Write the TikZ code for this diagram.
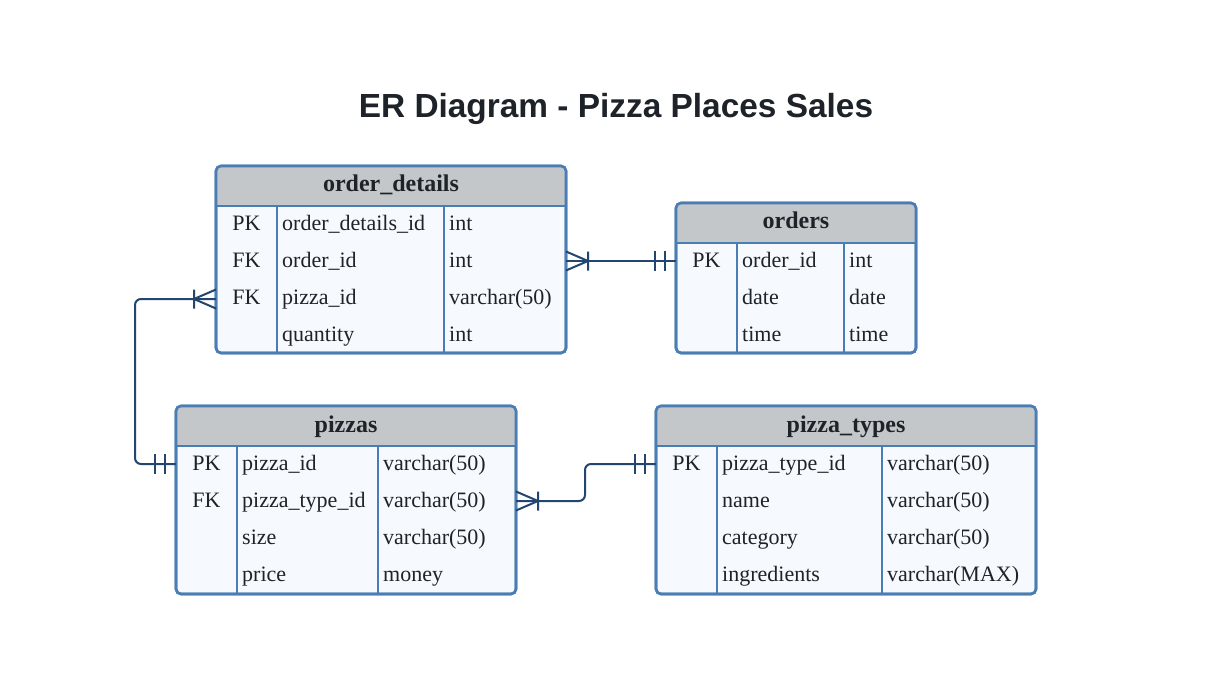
\documentclass[tikz,border=0pt]{standalone}
\usepackage{fontspec}
\setmainfont{Liberation Serif}
\newfontfamily\titlefont{Liberation Sans}
\definecolor{bordc}{HTML}{4A7DB3}
\definecolor{hdrc}{HTML}{C3C7CA}
\definecolor{bodyc}{HTML}{F6FAFE}
\definecolor{linec}{HTML}{22466F}
\definecolor{txtc}{HTML}{1D2329}
\tikzset{
  tblframe/.style={draw=bordc, fill=bodyc, line width=2.6pt, rounded corners=5pt, rectangle, outer sep=0pt, inner sep=0pt},
  bord/.style={draw=bordc, line width=2.6pt},
  conn/.style={draw=linec, line width=2pt, rounded corners=6pt},
  celltxt/.style={font=\fontsize{22}{26}\selectfont, text=txtc, inner sep=0pt},
  hdrtxt/.style={font=\bfseries\fontsize{24}{28}\selectfont, text=txtc, inner sep=0pt, anchor=base},
  manyend/.pic={\draw[draw=linec, line width=2pt] (0,-9.5) -- (22,0) -- (0,9.5) (22,-9.5) -- (22,9.5);},
  oneend/.pic={\draw[draw=linec, line width=2pt] (-11,-10) -- (-11,10) (-21,-10) -- (-21,10);}
}
% #1 name, #2 x, #3 y, #4 width, #5 height, #6 col1 offset, #7 col2 offset, #8 title
\newcommand\ertable[8]{%
  \node[tblframe, minimum width=#4pt, minimum height=#5pt, anchor=north west] (#1) at (#2,#3) {};
  \begin{scope}
    \clip[rounded corners=5pt] (#1.north west) rectangle (#1.south east);
    \fill[hdrc] (#1.north west) rectangle (#2+#4,#3+40);
  \end{scope}
  \draw[bord] (#2,#3+40) -- (#2+#4,#3+40);
  \draw[bord] (#2+#6,#3+40) -- (#2+#6,#3+#5);
  \draw[bord] (#2+#7,#3+40) -- (#2+#7,#3+#5);
  \draw[draw=bordc, line width=2.6pt, rounded corners=5pt] (#1.north west) rectangle (#1.south east);
  \node[hdrtxt] (#1-title) at (#2+#4/2,#3+26) {#8};
}
% #1 name, #2 key center x, #3 field x, #4 type x, #5 baseline y, #6 key, #7 field, #8 type
\newcommand\errow[8]{%
  \node[celltxt, anchor=base] (#1-k) at (#2,#5+2) {#6};
  \node[celltxt, anchor=base west] (#1-f) at (#3,#5+2) {#7};
  \node[celltxt, anchor=base west] (#1-t) at (#4,#5+2) {#8};
}
\begin{document}
\begin{tikzpicture}[x=1pt,y=-1pt]
\fill[white] (0,0) rectangle (1211,674);
\useasboundingbox (0,0) rectangle (1211,674);

\node[font=\titlefont\bfseries\fontsize{33.4}{40}\selectfont, text=txtc] (title) at (616,109) {ER Diagram - Pizza Places Sales};

% order_details
\ertable{od}{216}{166}{350}{187}{61}{228}{order\_details}
\errow{od1}{246.5}{282}{449}{228}{PK}{order\_details\_id}{int}
\errow{od2}{246.5}{282}{449}{265}{FK}{order\_id}{int}
\errow{od3}{246.5}{282}{449}{302}{FK}{pizza\_id}{varchar(50)}
\errow{od4}{246.5}{282}{449}{339}{}{quantity}{int}

% orders
\ertable{ord}{676}{203}{240}{150}{61}{168}{orders}
\errow{or1}{706.5}{742}{849}{265}{PK}{order\_id}{int}
\errow{or2}{706.5}{742}{849}{302}{}{date}{date}
\errow{or3}{706.5}{742}{849}{339}{}{time}{time}

% pizzas
\ertable{pz}{176}{406}{340}{188}{61}{202}{pizzas}
\errow{pz1}{206.5}{242}{383}{468}{PK}{pizza\_id}{varchar(50)}
\errow{pz2}{206.5}{242}{383}{505}{FK}{pizza\_type\_id}{varchar(50)}
\errow{pz3}{206.5}{242}{383}{542}{}{size}{varchar(50)}
\errow{pz4}{206.5}{242}{383}{579}{}{price}{money}

% pizza_types
\ertable{pt}{656}{406}{380}{188}{61}{226}{pizza\_types}
\errow{pt1}{686.5}{722}{887}{468}{PK}{pizza\_type\_id}{varchar(50)}
\errow{pt2}{686.5}{722}{887}{505}{}{name}{varchar(50)}
\errow{pt3}{686.5}{722}{887}{542}{}{category}{varchar(50)}
\errow{pt4}{686.5}{722}{887}{579}{}{ingredients}{varchar(MAX)}

% connector end points
\coordinate (odR) at (od.east |- 0,261);
\coordinate (ordL) at (ord.west |- 0,261);
\coordinate (odL) at (od.west |- 0,299);
\coordinate (pzL) at (pz.west |- 0,464);
\coordinate (pzR) at (pz.east |- 0,501);
\coordinate (ptL) at (pt.west |- 0,464);

% order_details -- orders
\draw[conn] (odR) -- (ordL);
\pic at (odR) {manyend};
\pic at (ordL) {oneend};

% order_details -- pizzas
\draw[conn] (odL) -- (135,299) -- (135,464) -- (pzL);
\pic[xscale=-1] at (odL) {manyend};
\pic at (pzL) {oneend};

% pizzas -- pizza_types
\draw[conn] (pzR) -- (585,501) -- (585,464) -- (ptL);
\pic at (pzR) {manyend};
\pic at (ptL) {oneend};
\end{tikzpicture}
\end{document}
